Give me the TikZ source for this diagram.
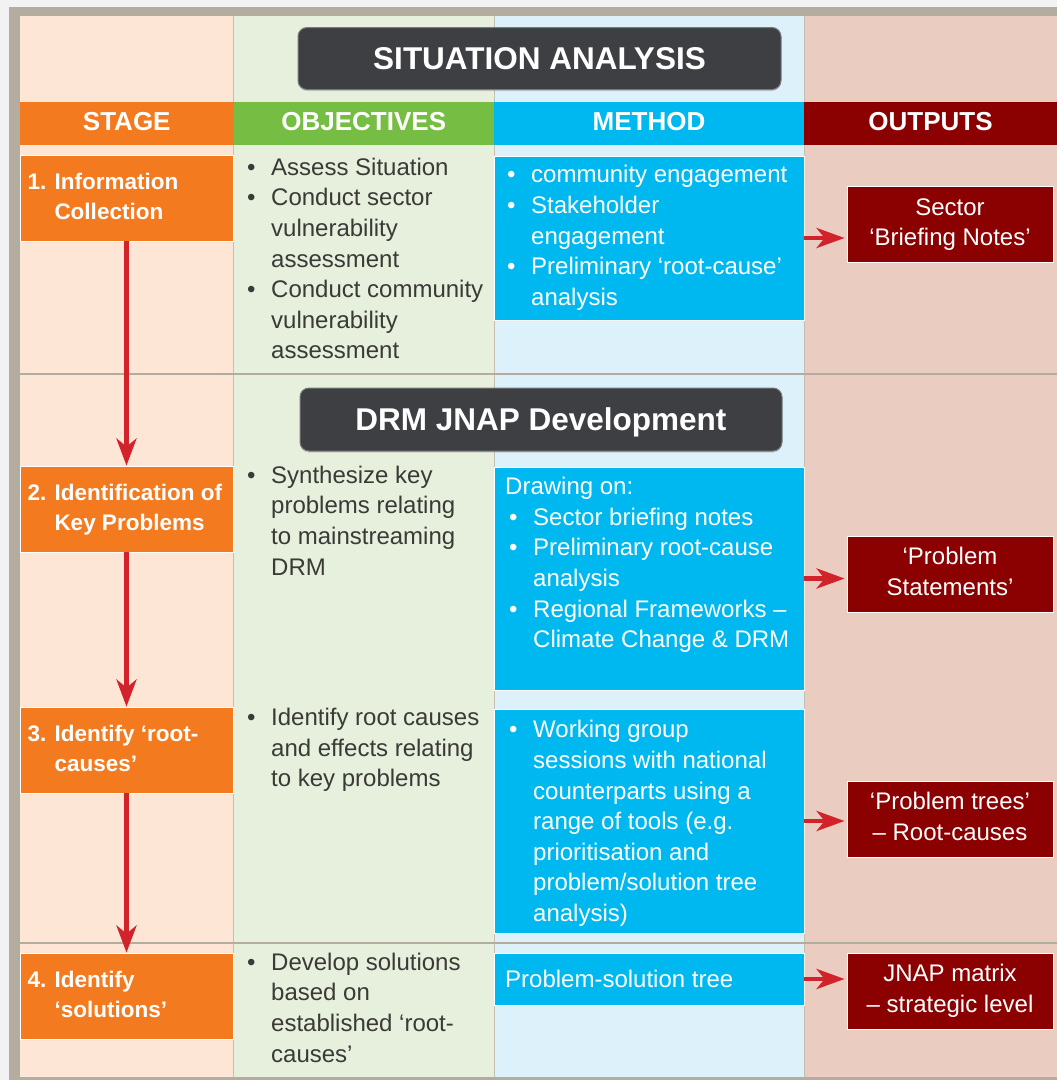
\documentclass[tikz,border=0pt]{standalone}
\usepackage{fontspec}
\setmainfont{Liberation Sans}
\usetikzlibrary{arrows.meta,shadows}
\definecolor{bgout}{HTML}{F2F2F2}
\definecolor{framec}{HTML}{B2AD9F}
\definecolor{cpeach}{HTML}{FDE6D6}
\definecolor{cgreen}{HTML}{E6F0DD}
\definecolor{cblue}{HTML}{DDF1FB}
\definecolor{cpink}{HTML}{EACCC0}
\definecolor{orng}{HTML}{F47A20}
\definecolor{grn}{HTML}{76BE43}
\definecolor{cyn}{HTML}{00B8F0}
\definecolor{dred}{HTML}{8B0000}
\definecolor{ttl}{HTML}{3E3F43}
\definecolor{txtc}{HTML}{3A3A36}
\definecolor{arrc}{HTML}{D2232A}
\definecolor{sepc}{HTML}{C4BFB3}
\newcommand\myBody{\fontsize{24}{30.6}\selectfont}
\newcommand\myStage{\fontsize{22.5}{30}\selectfont\bfseries}
\newcommand\myHead{\fontsize{26}{30}\selectfont\bfseries}
\newcommand\myTitle{\fontsize{31.5}{36}\selectfont\bfseries}
\newcommand\bul{\makebox[24pt][l]{•}}
\newcommand\stg[2]{\makebox[198pt][l]{\begin{tabular}{@{}l@{}}#1\\\hspace*{27pt}#2\end{tabular}}}
\begin{document}
\begin{tikzpicture}[x=1pt,y=-1pt,
 hdr/.style={minimum height=43pt, inner sep=0pt, text=white, font=\myHead, text height=18.6pt, text depth=4pt},
 titlebox/.style={fill=ttl, draw=ttl!70!white, line width=1pt, rounded corners=9pt, text=white, font=\myTitle, inner sep=0pt, text height=22.6pt, text depth=0pt, drop shadow={shadow xshift=0pt, shadow yshift=-1.5pt, opacity=0.3}},
 stagebox/.style={fill=orng, draw=white, line width=0.8pt, minimum width=213pt, minimum height=86pt, inner sep=0pt, text=white, font=\myStage},
 methbox/.style={fill=cyn, draw=white, line width=0.8pt, minimum width=310pt, inner sep=0pt},
 outbox/.style={fill=dred, draw=white, line width=0.8pt, minimum width=206pt, minimum height=76pt, inner sep=0pt, text=white, font=\myBody},
 objtext/.style={anchor=west, inner sep=0pt, text=txtc, font=\myBody},
 methtext/.style={anchor=west, inner sep=0pt, text=white, font=\myBody},
 varrow/.style={draw=arrc, line width=4.5pt, -{Stealth[length=27pt,width=20pt,inset=8pt]}},
 harrow/.style={draw=arrc, line width=4.5pt, -{Stealth[length=28pt,width=20pt,inset=8pt]}, shorten >=2pt}
]
\useasboundingbox (0,0) rectangle (1057,1080);
% background and frame
\fill[bgout] (0,0) rectangle (1057,1080);
\fill[framec] (9,7) rectangle (1057,1080);
\fill[cpeach] (20,16) rectangle (233.5,1077);
\fill[cgreen] (233.5,16) rectangle (494,1077);
\fill[cblue] (494,16) rectangle (804,1077);
\fill[cpink] (804,16) rectangle (1057,1077);
\draw[sepc, line width=1pt] (233.5,16) -- (233.5,1077);
\draw[sepc, line width=1pt] (494,16) -- (494,1077);
\draw[sepc, line width=1pt] (804,16) -- (804,1077);
\draw[framec, line width=2.5pt] (20,374) -- (1057,374);
\draw[framec, line width=2.5pt] (20,943) -- (1057,943);
% titles
\node[titlebox, minimum width=483pt, minimum height=62pt] (t1) at (539.5,58.5) {SITUATION ANALYSIS};
\node[titlebox, minimum width=482pt, minimum height=63pt] (t2) at (541,419.5) {DRM JNAP Development};
% headers
\node[hdr, fill=orng, minimum width=213.5pt] (hS) at (126.75,123.5) {STAGE};
\node[hdr, fill=grn, minimum width=260.5pt] (hO) at (363.75,123.5) {OBJECTIVES};
\node[hdr, fill=cyn, minimum width=310pt] (hM) at (649,123.5) {METHOD};
\node[hdr, fill=dred, minimum width=253pt] (hU) at (930.5,123.5) {OUTPUTS};
% stages
\node[stagebox] (s1) at (126.5,198) {\stg{1. Information}{Collection}};
\node[stagebox] (s2) at (126.5,509) {\stg{2. Identification of}{Key Problems}};
\node[stagebox] (s3) at (126.5,750) {\stg{3. Identify ‘root-}{causes’}};
\node[stagebox] (s4) at (126.5,996) {\stg{4. Identify}{‘solutions’}};
% objectives
\node[objtext] (ob1) at (247,261) {\begin{tabular}{@{}l@{}l@{}}\bul&Assess Situation\\\bul&Conduct sector\\&vulnerability\\&assessment\\\bul&Conduct community\\&vulnerability\\&assessment\end{tabular}};
\node[objtext] (ob2) at (247,523) {\begin{tabular}{@{}l@{}l@{}}\bul&Synthesize key\\&problems relating\\&to mainstreaming\\&DRM\end{tabular}};
\node[objtext] (ob3) at (247,750) {\begin{tabular}{@{}l@{}l@{}}\bul&Identify root causes\\&and effects relating\\&to key problems\end{tabular}};
\node[objtext] (ob4) at (247,1010) {\begin{tabular}{@{}l@{}l@{}}\bul&Develop solutions\\&based on\\&established ‘root-\\&causes’\end{tabular}};
% method boxes
\node[methbox, minimum height=164pt] (m1) at (649,238) {};
\node[methbox, minimum height=223pt] (m2) at (649,578.5) {};
\node[methbox, minimum height=224pt] (m3) at (649,821) {};
\node[methbox, minimum height=52pt] (m4) at (649,979) {};
\node[methtext] (mt1) at (507,238) {\begin{tabular}{@{}l@{}l@{}}\bul&community engagement\\\bul&Stakeholder\\&engagement\\\bul&Preliminary ‘root-cause’\\&analysis\end{tabular}};
\node[methtext] (mt2) at (505,565) {\begin{tabular}{@{}l@{}l@{}}\multicolumn{2}{@{}l@{}}{Drawing on:}\\\hspace*{4pt}\bul&Sector briefing notes\\\hspace*{4pt}\bul&Preliminary root-cause\\&analysis\\\hspace*{4pt}\bul&Regional Frameworks –\\&Climate Change \& DRM\end{tabular}};
\node[methtext] (mt3) at (509,823.5) {\begin{tabular}{@{}l@{}l@{}}\bul&Working group\\&sessions with national\\&counterparts using a\\&range of tools (e.g.\\&prioritisation and\\&problem/solution tree\\&analysis)\end{tabular}};
\node[methtext] (mt4) at (505,981) {\begin{tabular}{@{}l@{}}Problem-solution tree\end{tabular}};
% outputs
\node[outbox] (o1) at (950,224.5) {\begin{tabular}{@{}c@{}}Sector\\‘Briefing Notes’\end{tabular}};
\node[outbox] (o2) at (950,574) {\begin{tabular}{@{}c@{}}‘Problem\\Statements’\end{tabular}};
\node[outbox] (o3) at (950,819) {\begin{tabular}{@{}c@{}}‘Problem trees’\\– Root-causes\end{tabular}};
\node[outbox] (o4) at (950,991) {\begin{tabular}{@{}c@{}}JNAP matrix\\– strategic level\end{tabular}};
% arrows
\draw[varrow] (s1) -- (s2);
\draw[varrow] (s2) -- (s3);
\draw[varrow] (s3) -- (s4);
\draw[harrow] (m1.east) -- (m1.east -| o1.west);
\draw[harrow] (m2.east) -- (m2.east -| o2.west);
\draw[harrow] (m3.east) -- (m3.east -| o3.west);
\draw[harrow] (m4.east) -- (m4.east -| o4.west);
\end{tikzpicture}
\end{document}
